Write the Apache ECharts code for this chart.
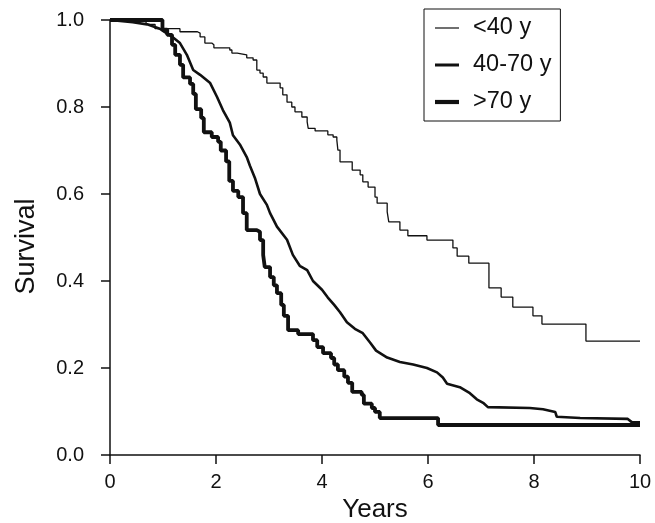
<!DOCTYPE html>
<html>
<head>
<meta charset="utf-8">
<title>Survival by age group</title>
<script src="https://cdn.jsdelivr.net/npm/echarts@6/dist/echarts.min.js"></script>
<style>
  html, body { margin: 0; padding: 0; background: #fff; }
  #chart { width: 655px; height: 523px; }
</style>
</head>
<body>
<div id="chart"></div>
<script>
// Kaplan-Meier survival estimates by age group (years since diagnosis, survival fraction)
const groupNames = ['<40 y', '40-70 y', '>70 y'];

const under40Years = [0, 0.68, 0.85, 1.32, 1.65, 1.70, 1.79, 1.92, 1.96, 2.26, 2.30, 2.40, 2.58, 2.70, 2.77, 2.83, 2.89, 2.96,
  3.21, 3.26, 3.34, 3.43, 3.49, 3.62, 3.72, 3.74, 3.87, 4.11, 4.21, 4.28, 4.30, 4.34, 4.57, 4.72, 4.77, 4.87, 5.00, 5.04,
  5.23, 5.26, 5.47, 5.62, 5.98, 6.47, 6.55, 6.77, 7.15, 7.38, 7.60, 7.98, 8.15, 8.98, 10];
const under40Survival = [1.0, 0.99, 0.98, 0.973, 0.97, 0.961, 0.947, 0.943, 0.936, 0.931, 0.924, 0.920, 0.913, 0.908, 0.885, 0.878, 0.869, 0.855,
  0.844, 0.828, 0.811, 0.800, 0.789, 0.777, 0.766, 0.751, 0.745, 0.736, 0.731, 0.724, 0.701, 0.674, 0.655, 0.644, 0.628, 0.616, 0.593, 0.579,
  0.559, 0.536, 0.517, 0.504, 0.494, 0.476, 0.457, 0.441, 0.384, 0.363, 0.340, 0.320, 0.301, 0.262, 0.262];

const middleYears = [0, 0.43, 0.70, 0.94, 1.00, 1.19, 1.32, 1.45, 1.57, 1.70, 1.89, 2.02, 2.13, 2.26, 2.32, 2.45, 2.58, 2.64, 2.74, 2.83, 2.96,
  3.02, 3.15, 3.34, 3.45, 3.58, 3.72, 3.83, 4.00, 4.11, 4.23, 4.34, 4.47, 4.62, 4.77, 4.91, 5.02, 5.23, 5.47, 5.72, 5.98, 6.17, 6.28, 6.36,
  6.60, 6.79, 6.92, 7.04, 7.13, 7.92, 8.17, 8.40, 8.43, 8.87, 9.77, 9.85, 10];
const middleSurvival = [1.0, 0.995, 0.99, 0.98, 0.975, 0.96, 0.947, 0.92, 0.885, 0.874, 0.855, 0.823, 0.793, 0.764, 0.735, 0.714, 0.685, 0.665, 0.635, 0.600, 0.575,
  0.556, 0.525, 0.495, 0.460, 0.435, 0.425, 0.400, 0.380, 0.362, 0.345, 0.328, 0.305, 0.290, 0.280, 0.258, 0.240, 0.224, 0.214, 0.208, 0.200, 0.190, 0.178, 0.164,
  0.156, 0.142, 0.128, 0.120, 0.110, 0.108, 0.105, 0.099, 0.088, 0.085, 0.083, 0.075, 0.075];

const over70Years = [0, 0.94, 0.99, 1.08, 1.17, 1.23, 1.32, 1.38, 1.51, 1.57, 1.62, 1.72, 1.77, 1.92, 2.04, 2.09, 2.19, 2.25, 2.32, 2.42, 2.51,
  2.58, 2.77, 2.83, 2.89, 2.92, 3.02, 3.09, 3.15, 3.23, 3.28, 3.36, 3.55, 3.83, 3.91, 4.02, 4.17, 4.23, 4.30, 4.42, 4.49, 4.57, 4.75,
  4.79, 4.94, 5.00, 5.09, 6.19, 10];
const over70Survival = [1.0, 1.0, 0.978, 0.966, 0.943, 0.920, 0.897, 0.868, 0.853, 0.830, 0.795, 0.775, 0.742, 0.731, 0.720, 0.700, 0.675, 0.630, 0.607, 0.593, 0.556,
  0.517, 0.513, 0.494, 0.460, 0.432, 0.409, 0.390, 0.372, 0.345, 0.320, 0.287, 0.278, 0.264, 0.248, 0.234, 0.223, 0.208, 0.195, 0.180, 0.166, 0.145, 0.138,
  0.118, 0.108, 0.099, 0.085, 0.069, 0.069];

const pairs = (xs, ys) => xs.map((x, i) => [x, ys[i]]);

const FONT = 'Liberation Sans, Arial, Helvetica, sans-serif';
const INK = '#111';
const lineWidths = [1.3, 2.6, 3.8];

// flat bar icons so each legend key shows only a stroke of the series' weight
const barIcon = h => 'path://M0,0H24V' + h + 'H0Z';

const chart = echarts.init(document.getElementById('chart'), null, { renderer: 'canvas' });

chart.setOption({
  backgroundColor: '#fff',
  animation: false,
  textStyle: { fontFamily: FONT, color: INK },
  grid: { left: 110, right: 15, top: 20, bottom: 68, outerBoundsMode: 'none' },
  legend: {
    data: groupNames.map((name, i) => ({ name, icon: barIcon([1.2, 3, 4.2][i]) })),
    orient: 'vertical',
    left: 424,
    top: 9,
    padding: [7, 9, 7, 11],
    itemGap: 13,
    itemWidth: 24,
    itemHeight: 14,
    symbolKeepAspect: true,
    borderColor: INK,
    borderWidth: 1,
    backgroundColor: '#fff',
    textStyle: { fontFamily: FONT, fontSize: 23.5, color: INK, padding: [0, 0, 0, 9] }
  },
  xAxis: {
    type: 'value',
    min: 0,
    max: 10,
    interval: 2,
    name: 'Years',
    nameLocation: 'middle',
    nameGap: 38,
    nameTextStyle: { fontFamily: FONT, fontSize: 26, color: INK },
    axisLine: { show: true, lineStyle: { color: INK, width: 1.5 } },
    axisTick: { show: true, inside: false, length: 9, lineStyle: { color: INK, width: 1.5 } },
    axisLabel: { fontFamily: FONT, fontSize: 20, color: INK, margin: 17 },
    splitLine: { show: false }
  },
  yAxis: {
    type: 'value',
    min: 0,
    max: 1,
    interval: 0.2,
    name: 'Survival',
    nameLocation: 'middle',
    nameGap: 70,
    nameRotate: 90,
    nameTextStyle: { fontFamily: FONT, fontSize: 27, color: INK, padding: [0, 18, 0, 0] },
    axisLine: { show: true, lineStyle: { color: INK, width: 1.5 } },
    axisTick: { show: true, inside: false, length: 9, lineStyle: { color: INK, width: 1.5 } },
    axisLabel: { fontFamily: FONT, fontSize: 20, color: INK, margin: 26, formatter: v => v.toFixed(1) },
    splitLine: { show: false }
  },
  series: [
    {
      name: groupNames[0],
      type: 'line',
      step: 'end',
      symbol: 'none',
      data: pairs(under40Years, under40Survival),
      lineStyle: { color: INK, width: lineWidths[0] },
      itemStyle: { color: INK },
      z: 3
    },
    {
      name: groupNames[1],
      type: 'line',
      symbol: 'none',
      data: pairs(middleYears, middleSurvival),
      lineStyle: { color: INK, width: lineWidths[1] },
      itemStyle: { color: INK },
      z: 4
    },
    {
      name: groupNames[2],
      type: 'line',
      step: 'end',
      symbol: 'none',
      data: pairs(over70Years, over70Survival),
      lineStyle: { color: INK, width: lineWidths[2] },
      itemStyle: { color: INK },
      z: 5
    }
  ]
});
</script>
</body>
</html>
